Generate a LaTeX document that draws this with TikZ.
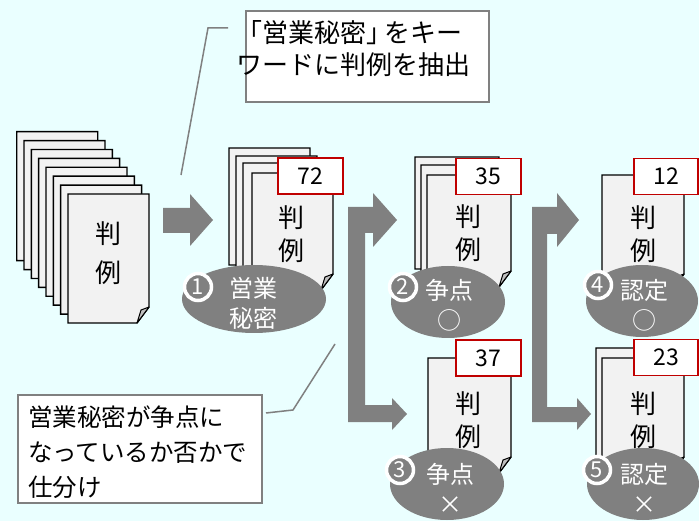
\documentclass[tikz,border=0pt]{standalone}
\usepackage{fontspec}
\setmainfont{Noto Sans CJK JP}
\usetikzlibrary{shapes.geometric}
\definecolor{bg}{RGB}{234,255,255}
\definecolor{arrowgray}{RGB}{128,128,128}
\definecolor{pagefill}{RGB}{242,242,242}
\definecolor{foldfill}{RGB}{191,191,191}
\definecolor{numred}{RGB}{192,0,0}
\tikzset{
 page/.style={fill=pagefill, draw=black, line width=1.4pt, line join=miter},
 fold/.style={fill=foldfill, draw=black, line width=1pt, line join=round},
 bigarrow/.style={fill=arrowgray, draw=none},
 numbox/.style={draw=numred, fill=white, line width=1.5pt, minimum width=65pt, minimum height=36pt, inner sep=0pt, font=\fontsize{23}{23}\selectfont},
 pagetext/.style={align=center, font=\fontsize{26}{33}\selectfont, inner sep=0pt},
 stepoval/.style={ellipse, fill=arrowgray, draw=none, inner sep=0pt},
 ovaltext/.style={text=white, align=center, font=\fontsize{24}{30}\selectfont, inner sep=0pt},
 stepnum/.style={circle, fill=arrowgray, draw=white, line width=3.5pt, minimum size=27pt, inner sep=0pt, text=white, font=\fontsize{22}{22}\selectfont},
 callout/.style={draw=arrowgray, fill=white, line width=1.5pt, inner sep=0pt},
 callouttext/.style={align=left, inner sep=0pt, anchor=west},
 leader/.style={draw=arrowgray, line width=1.5pt},
}
\newcommand\docpage[4]{%
 \filldraw[page] (#1,#2) -- ++(#3,0) -- ++(0,#4-16) -- ++(-12,16) -- ++(-#3+12,0) -- cycle;
 \filldraw[fold] (#1+#3,#2+#4-16) -- ++(-12,16) -- ++(4,-13) -- cycle;}
\begin{document}
\begin{tikzpicture}[x=1pt,y=-1pt]
\fill[bg] (0,0) rectangle (699,521);
\useasboundingbox (0,0) rectangle (699,521);

% leader lines
\coordinate (kwA) at (228,28);
\coordinate (kwB) at (208,28);
\coordinate (kwC) at (181,175);
\coordinate (spA) at (266,413);
\coordinate (spB) at (293,410);
\coordinate (spC) at (335,344);
\draw[leader] (kwA) -- (kwB) -- (kwC);
\draw[leader] (spA) -- (spB) -- (spC);

% arrows
\fill[bigarrow] (163,208) -- (190,208) -- (190,194) -- (213,220) -- (190,246) -- (190,233) -- (163,233) -- cycle;
\fill[bigarrow] (348,207) -- (373,207) -- (373,193) -- (397,220) -- (373,247) -- (373,233) -- (365,233) -- (365,405) -- (392,405) -- (392,398) -- (407,414) -- (392,430) -- (392,422) -- (348,422) -- cycle;
\fill[bigarrow] (532,207) -- (557,207) -- (557,193) -- (579,220) -- (557,247) -- (557,234) -- (547,234) -- (547,407) -- (577,407) -- (577,398) -- (591,414) -- (577,430) -- (577,422) -- (532,422) -- cycle;

% big stack
\foreach \i in {0,...,7}{\docpage{16.7+7.33*\i}{131.7+8.9*\i}{81}{129}}
\node[pagetext, font=\fontsize{26}{39}\selectfont] (t0) at (108,253) {判\\例};

% stack 72
\docpage{229}{148}{81}{117}
\docpage{236}{156}{81}{117}
\docpage{243}{163}{81}{117}
\docpage{252}{173}{81}{117}
\node[pagetext] (t1) at (291,234) {判\\例};
\node[numbox] (n1) at (310.5,176) {72};

% stack 35
\docpage{415}{157}{84}{112}
\docpage{421}{165}{84}{112}
\docpage{427}{175}{84}{112}
\node[pagetext] (t2) at (468,233) {判\\例};
\node[numbox] (n2) at (488.5,176.5) {35};

% stack 12
\docpage{602}{175}{82}{115}
\node[pagetext] (t4) at (643,234) {判\\例};
\node[numbox, minimum width=64pt] (n4) at (666,176.5) {12};

% stack 37
\docpage{428}{358}{83}{115}
\node[pagetext] (t3) at (468,420) {判\\例};
\node[numbox] (n3) at (488.5,358) {37};

% stack 23
\docpage{596}{348}{82}{115}
\docpage{602}{358}{82}{115}
\node[pagetext] (t5) at (643,420) {判\\例};
\node[numbox, minimum width=64pt] (n5) at (666,357.5) {23};

% ovals
\node[stepoval, minimum width=144pt, minimum height=68pt] (o1) at (254,299) {};
\node[ovaltext] (o1t) at (253,303) {営業\\秘密};
\node[stepnum] (c1) at (198,287) {1};

\node[stepoval, minimum width=114pt, minimum height=72pt] (o2) at (448,302) {};
\node[ovaltext] (o2t) at (449,305) {争点\\○};
\node[stepnum] (c2) at (403,287) {2};

\node[stepoval, minimum width=112pt, minimum height=72pt] (o4) at (642,301) {};
\node[ovaltext] (o4t) at (644,305) {認定\\○};
\node[stepnum] (c4) at (598,285) {4};

\node[stepoval, minimum width=114pt, minimum height=72pt] (o3) at (447,484) {};
\node[ovaltext] (o3t) at (450,488) {争点\\×};
\node[stepnum] (c3) at (400,470) {3};

\node[stepoval, minimum width=112pt, minimum height=72pt] (o5) at (643,484) {};
\node[ovaltext] (o5t) at (644,488) {認定\\×};
\node[stepnum] (c5) at (597,470) {5};

% callouts
\node[callout, minimum width=243pt, minimum height=91pt] (kw) at (367.5,56.5) {};
\node[callouttext, font=\fontsize{26}{32}\selectfont] (kwt) at (236,49) {「営業秘密」\hspace{-8pt}をキー\\ワードに判例を抽出};
\node[callout, minimum width=244pt, minimum height=108pt] (sp) at (140,449) {};
\node[callouttext, font=\fontsize{24.5}{35}\selectfont] (spt) at (28,452) {営業秘密が争点に\\なっているか否かで\\仕分け};
\end{tikzpicture}
\end{document}
